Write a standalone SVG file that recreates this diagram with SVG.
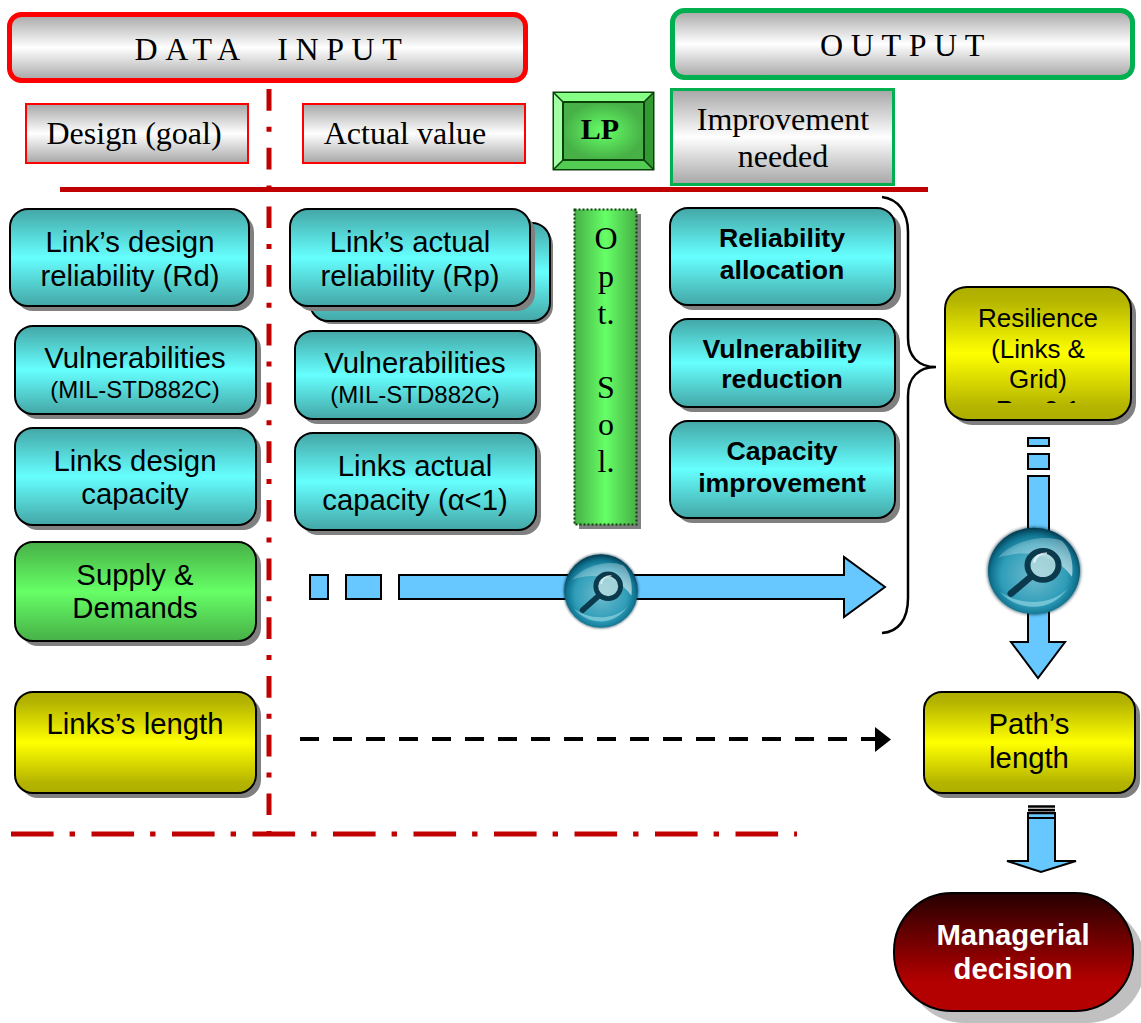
<svg xmlns="http://www.w3.org/2000/svg" xmlns:xlink="http://www.w3.org/1999/xlink" width="1141" height="1023" viewBox="0 0 1141 1023">
<style>
text{font-family:"Liberation Sans",Arial,sans-serif;font-size:29.3px;fill:#000;text-anchor:middle}
.serif{font-family:"Liberation Serif","Times New Roman",serif;font-size:32px}
.small{font-size:24px}
.bold{font-weight:bold;font-size:26.7px}
.res{font-size:26px}
.sh{fill:#808080}
.box{stroke:#000;stroke-width:2}
.teal{fill:url(#gT)}
.yel{fill:url(#gY)}
.grn{fill:url(#gG)}
.chrome{fill:url(#gC)}
.arw{fill:#66c8ff;stroke:#000;stroke-width:2}
.red{fill:none;stroke:#c00000;stroke-width:5}
</style>
<defs>
<linearGradient id="gT" x1="0" y1="0" x2="0" y2="1"><stop offset="0" stop-color="#44a6a6"/><stop offset=".5" stop-color="#66ffff"/><stop offset="1" stop-color="#44a6a6"/></linearGradient>
<linearGradient id="gY" x1="0" y1="0" x2="0" y2="1"><stop offset="0" stop-color="#aeae00"/><stop offset=".1" stop-color="#b4b400"/><stop offset=".5" stop-color="#ffff00"/><stop offset=".9" stop-color="#b4b400"/><stop offset="1" stop-color="#aeae00"/></linearGradient>
<linearGradient id="gG" x1="0" y1="0" x2="0" y2="1"><stop offset="0" stop-color="#47b047"/><stop offset=".5" stop-color="#66ff66"/><stop offset="1" stop-color="#47b047"/></linearGradient>
<linearGradient id="gGh" x1="0" y1="0" x2="1" y2="0"><stop offset="0" stop-color="#47b047"/><stop offset=".5" stop-color="#66ff66"/><stop offset="1" stop-color="#47b047"/></linearGradient>
<linearGradient id="gC" x1="0" y1="0" x2="0" y2="1"><stop offset="0" stop-color="#a6a6a6"/><stop offset=".5" stop-color="#ffffff"/><stop offset="1" stop-color="#a6a6a6"/></linearGradient>
<linearGradient id="gM" x1="0" y1="0" x2="0" y2="1"><stop offset="0" stop-color="#260000"/><stop offset=".75" stop-color="#b30000"/><stop offset="1" stop-color="#b30000"/></linearGradient>
<radialGradient id="gLP"><stop offset="0" stop-color="#66ff66"/><stop offset="1" stop-color="#47b047"/></radialGradient>
<radialGradient id="gLens" cx=".5" cy=".55" r=".55"><stop offset="0" stop-color="#6fbccf"/><stop offset=".65" stop-color="#2f9db8"/><stop offset=".85" stop-color="#0f7390"/><stop offset="1" stop-color="#03384c"/></radialGradient>
<linearGradient id="gGl" x1="0" y1="0" x2="1" y2="1"><stop offset="0" stop-color="#fff" stop-opacity=".2"/><stop offset="1" stop-color="#fff" stop-opacity=".9"/></linearGradient>
<filter id="soft" x="-20%" y="-20%" width="140%" height="140%"><feGaussianBlur stdDeviation="1.500"/></filter>
<clipPath id="clipRes"><rect x="945" y="287" width="186" height="116"/></clipPath>
<g id="lens">
<circle r="47" fill="#062f40" fill-opacity=".6" filter="url(#soft)"/>
<circle r="46" fill="url(#gLens)"/>
<path d="M-36-14C-22-32 10-40 28-32C36-24 40-10 38 6C22-18-10-24-36-14Z" fill="url(#gGl)" opacity=".65"/>
<path d="M-34 22C-16 44 18 44 34 18C20 36-14 38-34 22Z" fill="#9fdce8" opacity=".6"/>
<circle cx="9" cy="-6" r="15.500" fill="#b9dde0" fill-opacity=".8" stroke="#0b3a4d" stroke-width="6"/>
<path d="M-3 6L-23 24" stroke="#0b3a4d" stroke-width="7" stroke-linecap="round"/>
<path d="M0-9C1-15 6-19 13-19" fill="none" stroke="#fff" stroke-opacity=".7" stroke-width="2"/>
</g>
</defs>

<g id="connectors">
<path class="red" d="M269 89V836" stroke-dasharray="21.7 16 5 16"/>
<path class="red" d="M60 189.500H928"/>
<path class="red" d="M11 834H797" stroke-dasharray="42.6 16 5.4 16.5"/>
<path d="M882 197C898 199 908 212 908 232V338C908 356 918 367 936 367C918 367 908 378 908 396V598C908 620 898 632 882 633" fill="none" stroke="#000" stroke-width="2.500"/>
<g id="arrow-h">
<rect class="arw" x="310" y="575" width="18" height="24"/>
<rect class="arw" x="346" y="575" width="35" height="24"/>
<path class="arw" d="M399 575H844V557L885 587L844 617V599H399Z"/>
<use xlink:href="#lens" href="#lens" transform="translate(601 591) scale(.8 .8)"/>
</g>
<g id="arrow-v">
<rect class="arw" x="1028" y="438" width="21" height="8"/>
<rect class="arw" x="1028" y="454" width="21" height="15"/>
<path class="arw" d="M1028 476H1049V642H1065L1038 678L1011 642H1028Z"/>
<use xlink:href="#lens" href="#lens" transform="translate(1034 571) scale(1 .94)"/>
</g>
<g id="arrow-dash">
<path d="M300 739H875" fill="none" stroke="#000" stroke-width="4" stroke-dasharray="19 14"/>
<path d="M875 727L891 739.500L875 752Z" fill="#000"/>
</g>
<g id="arrow-low">
<path class="arw" d="M1028 817H1055V861H1076L1041 872L1007 861H1028Z"/>
<rect class="arw" x="1028" y="813" width="27" height="5"/>
<path d="M1028 806.500H1055M1028 810H1055M1028 813H1055" stroke="#000" stroke-width="2.500" fill="none"/>
</g>
</g>

<g id="data-input"><rect class="chrome" x="9.500" y="14.500" width="516" height="66" rx="12" stroke="#ff0000" stroke-width="5"/><text class="serif" x="272" y="60" xml:space="preserve" letter-spacing="7.600">DATA  INPUT</text></g>
<g id="output"><rect class="chrome" x="672.500" y="10.500" width="460" height="67" rx="12" stroke="#00b050" stroke-width="5"/><text class="serif" x="906" y="55.500" letter-spacing="7.600">OUTPUT</text></g>
<g id="design-goal"><rect class="chrome" x="26" y="104" width="222" height="59" stroke="#ff0000" stroke-width="2"/><text class="serif" x="134" y="144">Design (goal)</text></g>
<g id="actual-value"><rect class="chrome" x="303" y="104" width="222" height="59" stroke="#ff0000" stroke-width="2"/><text class="serif" x="405" y="144">Actual value</text></g>
<g id="lp">
<rect x="553.500" y="92.500" width="100" height="77" fill="#66ff66" stroke="#0b400b" stroke-width="2"/>
<path d="M554 93H653L644 102H563Z" fill="#85ff85"/><path d="M554 93L563 102V160L554 169Z" fill="#a3ffa3"/>
<path d="M653 93L644 102V160L653 169Z" fill="#339933"/><path d="M554 169L563 160H644L653 169Z" fill="#52cc52"/>
<path d="M554 93L563 102M653 93L644 102M554 169L563 160M653 169L644 160" stroke="#0b400b" stroke-width="1.500"/>
<rect x="563" y="102" width="81" height="58" fill="url(#gLP)" stroke="#0b400b" stroke-width="2"/>
<text class="serif" x="600" y="139" style="font-size:30px;font-weight:bold">LP</text></g>
<g id="improvement"><rect class="chrome" x="671.500" y="89.500" width="222" height="95" stroke="#00b050" stroke-width="3"/><text class="serif" x="783" y="130">Improvement</text><text class="serif" x="783" y="167">needed</text></g>

<g id="rd"><rect class="sh" x="15" y="214" width="239" height="97" rx="18"/><rect class="box teal" x="10" y="209" width="239" height="97" rx="18"/><text x="130" y="252">Link’s design</text><text x="130" y="286">reliability (Rd)</text></g>
<g id="rp">
<rect class="sh" x="314" y="227" width="239" height="97" rx="18"/><rect class="box teal" x="310" y="223" width="240" height="98" rx="18"/>
<rect class="sh" x="295" y="214" width="240" height="97" rx="18"/><rect class="box teal" x="290" y="209" width="240" height="97" rx="18"/><text x="410" y="252">Link’s actual</text><text x="410" y="286">reliability (Rp)</text></g>
<g id="vuln-design"><rect class="sh" x="20" y="331" width="241" height="88" rx="18"/><rect class="box teal" x="15" y="326" width="241" height="88" rx="18"/><text x="135" y="368">Vulnerabilities</text><text class="small" x="135" y="398">(MIL-STD882C)</text></g>
<g id="vuln-actual"><rect class="sh" x="300" y="336" width="241" height="88" rx="18"/><rect class="box teal" x="295" y="331" width="241" height="88" rx="18"/><text x="415" y="373">Vulnerabilities</text><text class="small" x="415" y="403">(MIL-STD882C)</text></g>
<g id="cap-design"><rect class="sh" x="20" y="433" width="241" height="97" rx="18"/><rect class="box teal" x="15" y="428" width="241" height="97" rx="18"/><text x="135" y="471">Links design</text><text x="135" y="504">capacity</text></g>
<g id="cap-actual"><rect class="sh" x="300" y="438" width="241" height="97" rx="18"/><rect class="box teal" x="295" y="433" width="241" height="97" rx="18"/><text x="415" y="476">Links actual</text><text x="415" y="510">capacity (α&lt;1)</text></g>
<g id="supply"><rect class="sh" x="20" y="547" width="241" height="99" rx="18"/><rect class="box grn" x="15" y="542" width="241" height="99" rx="18"/><text x="135" y="585">Supply &amp;</text><text x="135" y="618">Demands</text></g>
<g id="links-length"><rect class="sh" x="20" y="697" width="241" height="101" rx="18"/><rect class="box yel" x="15" y="692" width="241" height="101" rx="18"/><text x="135" y="734">Links’s length</text></g>

<g id="opt-sol"><rect class="sh" x="579" y="214" width="62" height="315"/><rect x="574.500" y="209.500" width="62" height="315" fill="url(#gGh)" stroke="#0b400b" stroke-width="2" stroke-dasharray="2 2"/>
<text class="serif" x="606" y="249">O</text><text class="serif" x="606" y="287">p</text><text class="serif" x="606" y="324">t.</text><text class="serif" x="606" y="398">S</text><text class="serif" x="606" y="435">o</text><text class="serif" x="606" y="472">l.</text></g>

<g id="rel-alloc"><rect class="sh" x="675" y="213" width="226" height="97" rx="18"/><rect class="box teal" x="670" y="208" width="225" height="97" rx="18"/><text class="bold" x="782" y="247">Reliability</text><text class="bold" x="782" y="279">allocation</text></g>
<g id="vuln-red"><rect class="sh" x="675" y="324" width="225" height="88" rx="18"/><rect class="box teal" x="670" y="319" width="225" height="88" rx="18"/><text class="bold" x="782" y="358">Vulnerability</text><text class="bold" x="782" y="388">reduction</text></g>
<g id="cap-imp"><rect class="sh" x="675" y="426" width="225" height="97" rx="18"/><rect class="box teal" x="670" y="421" width="225" height="97" rx="18"/><text class="bold" x="782" y="460">Capacity</text><text class="bold" x="782" y="492">improvement</text></g>

<g id="resilience"><rect class="sh" x="950" y="292" width="186" height="133" rx="22"/><rect class="box yel" x="945" y="287" width="186" height="133" rx="22"/><text class="res" x="1038" y="327">Resilience</text><text class="res" x="1038" y="358">(Links &amp;</text><text class="res" x="1038" y="388">Grid)</text><text class="res" x="1038" y="419" clip-path="url(#clipRes)">Re=0.1</text></g>
<g id="paths-length"><rect class="sh" x="929" y="697" width="211" height="101" rx="18"/><rect class="box yel" x="924" y="692" width="211" height="101" rx="18"/><text x="1029" y="734">Path’s</text><text x="1029" y="768">length</text></g>
<g id="managerial"><rect x="906" y="905" width="239" height="118" rx="58" fill="#c0c0c0"/><rect class="box" x="894" y="893" width="239" height="118" rx="58" fill="url(#gM)"/><text x="1013" y="945" style="fill:#fff;font-weight:bold">Managerial</text><text x="1013" y="979" style="fill:#fff;font-weight:bold">decision</text></g>
</svg>
